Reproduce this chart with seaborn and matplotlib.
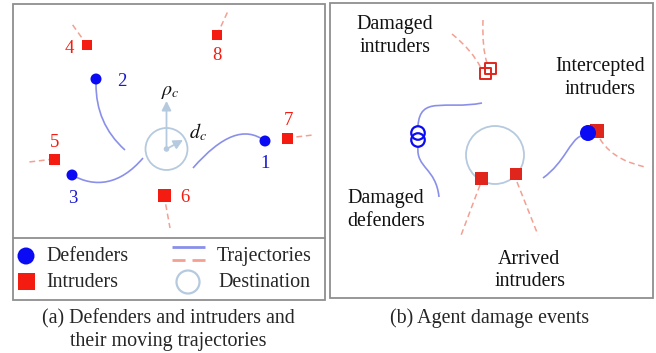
import matplotlib
matplotlib.use("Agg")
import matplotlib.pyplot as plt
from matplotlib.path import Path
from matplotlib.patches import PathPatch, Circle, Rectangle
import pandas as pd
import seaborn as sns

sns.set_theme(style="white")
plt.rcParams["font.family"] = ["Liberation Serif", "DejaVu Serif"]
plt.rcParams["mathtext.fontset"] = "stix"

# ---------------- panel (a): agents and trajectories ----------------
def_ids = ["1", "2", "3"]
def_x = [265, 96, 72]
def_y = [141, 79, 175]
def_lab_x = [265, 122, 73]
def_lab_y = [168, 86, 203]

int_ids = ["4", "5", "6", "7", "8"]
int_x = [87, 54, 164, 287, 217]
int_y = [45, 159, 195, 138, 35]
int_px = [10, 11, 13, 11, 10]
int_lab_x = [69, 55, 185, 288, 217]
int_lab_y = [53, 147, 202, 125, 60]
int_tail_x = [72, 29, 170, 313, 228]
int_tail_y = [24, 162, 228, 135, 11]

# defender paths as cubic Bezier control points (start, c1, c2, end)
def_paths_a = [
    [(265, 141), (245, 126), (222, 135), (193, 168)],
    [(96, 84), (96, 110), (105, 132), (125, 150)],
    [(72, 175), (95, 188), (120, 185), (143, 158)],
]
dest_a = (166.5, 149)
dest_a_r = 21
rho_tip = (166.5, 101)
d_tip = (183, 140)

# ---------------- panel (b): damage events ----------------
dmg_int_x = [485, 490]
dmg_int_y = [73, 68]
dmg_int_paths = [
    [(452, 34), (472, 50), (481, 68)],
    [(483, 20), (482, 48), (487, 63)],
]
dmg_def_x = [418, 418]
dmg_def_y = [133, 140]
dmg_def_paths = [
    [(482, 103), (445, 110), (420, 95), (418, 126)],
    [(418, 147), (416, 168), (436, 168), (439, 197)],
]
dest_b = (495, 155)
dest_b_r = 29
arr_x = [481, 516]
arr_y = [178, 174]
arr_px = [13, 12]
arr_tail = [[(480, 185), (460, 238)], [(517, 182), (538, 235)]]
icp_def = (588, 133)
icp_int = (597, 131)
icp_def_path = [(543, 178), (565, 162), (570, 140), (581, 136)]
icp_int_path = [(600, 139), (612, 158), (630, 163), (645, 167)]

BLUE = "#0a0af5"
BLUE_TXT = "#1a1ad0"
RED = "#f41c10"
RED_B = "#e0261c"
TRAJ_BLUE = "#8a90ea"
TRAJ_RED = "#f3a093"
DEST = "#b6cadf"
FRAME = "#8f8f8f"
FS = 14.4
DASH = (0, (3.8, 2.4))


def px2s(d):
    return (0.72 * d) ** 2


def bezier(ax, pts, color, lw, dashed=False, z=2):
    codes = [Path.MOVETO] + ([Path.CURVE4] * 3 if len(pts) == 4 else [Path.CURVE3] * 2)
    patch = PathPatch(Path(pts, codes), facecolor="none", edgecolor=color, lw=lw,
                      linestyle=DASH if dashed else "-", zorder=z, capstyle="butt")
    ax.add_patch(patch)


fig = plt.figure(figsize=(6.56, 3.53), dpi=100)
ax = fig.add_axes([0, 0, 1, 1])
ax.set_xlim(0, 656)
ax.set_ylim(353, 0)
ax.axis("off")

# frames
ax.add_patch(Rectangle((13, 4), 312, 296, fill=False, ec=FRAME, lw=1.3, zorder=1))
ax.plot([13, 325], [238, 238], color=FRAME, lw=1.3, zorder=1)
ax.add_patch(Rectangle((330, 3), 323, 295, fill=False, ec=FRAME, lw=1.3, zorder=1))

# ---- panel (a) ----
for tx, ty, x, y in zip(int_tail_x, int_tail_y, int_x, int_y):
    ax.plot([x, tx], [y, ty], color=TRAJ_RED, lw=1.1, ls=DASH, zorder=2)
for p in def_paths_a:
    bezier(ax, p, TRAJ_BLUE, 1.2)

ax.add_patch(Circle(dest_a, dest_a_r, fill=False, ec=DEST, lw=1.3, zorder=2))
ax.add_patch(Circle(dest_a, 2.8, fc=DEST, ec="none", zorder=2))
for tip in (rho_tip, d_tip):
    ax.annotate("", xy=tip, xytext=dest_a,
                arrowprops=dict(arrowstyle="-|>,head_length=0.55,head_width=0.28",
                                color=DEST, lw=1.3, mutation_scale=10,
                                shrinkA=0, shrinkB=0),
                zorder=2)
ax.text(170, 95, r"$\rho_c$", fontsize=FS, ha="center", va="baseline", color="#111111")
ax.text(198, 138, r"$d_c$", fontsize=FS, ha="center", va="baseline", color="#111111")

df_def = pd.DataFrame({"x": def_x, "y": def_y, "id": def_ids})
sns.scatterplot(data=df_def, x="x", y="y", ax=ax, marker="o", s=px2s(11),
                color=BLUE, edgecolor="none", zorder=4, legend=False)
df_int = pd.DataFrame({"x": int_x, "y": int_y, "id": int_ids, "px": int_px})
sns.scatterplot(data=df_int, x="x", y="y", ax=ax, marker="s",
                s=[px2s(v) for v in int_px], color=RED, edgecolor="none",
                zorder=4, legend=False)
for t, x, y in zip(def_ids, def_lab_x, def_lab_y):
    ax.text(x, y, t, fontsize=13.5, color=BLUE_TXT, ha="center", va="baseline")
for t, x, y in zip(int_ids, int_lab_x, int_lab_y):
    ax.text(x, y, t, fontsize=13.5, color=RED, ha="center", va="baseline")

# legend of panel (a)
ax.scatter([26], [256], s=px2s(17), marker="o", color=BLUE, ec="none", zorder=4)
ax.scatter([26], [281], s=px2s(17), marker="s", color=RED, ec="none", zorder=4)
ax.plot([172, 205], [247, 247], color=TRAJ_BLUE, lw=2.0, solid_capstyle="butt")
ax.plot([172, 205], [259.5, 259.5], color=TRAJ_RED, lw=2.0, ls=(0, (4.7, 2.5)),
        dash_capstyle="butt")
ax.add_patch(Circle((188, 282), 11.5, fill=False, ec=DEST, lw=1.6))
ax.text(46, 261, "Defenders", fontsize=FS, ha="left", va="baseline")
ax.text(46, 287, "Intruders", fontsize=FS, ha="left", va="baseline")
ax.text(217, 261, "Trajectories", fontsize=FS, ha="left", va="baseline")
ax.text(218, 287, "Destination", fontsize=FS, ha="left", va="baseline")

# ---- panel (b) ----
for p in dmg_int_paths:
    bezier(ax, p, TRAJ_RED, 1.1, dashed=True)
for p in dmg_def_paths:
    bezier(ax, p, TRAJ_BLUE, 1.2)
for (x0, y0), (x1, y1) in arr_tail:
    ax.plot([x0, x1], [y0, y1], color=TRAJ_RED, lw=1.1, ls=DASH, zorder=2)
bezier(ax, icp_def_path, TRAJ_BLUE, 1.2)
bezier(ax, icp_int_path, TRAJ_RED, 1.1, dashed=True)
ax.add_patch(Circle(dest_b, dest_b_r, fill=False, ec=DEST, lw=1.3, zorder=2))

sns.scatterplot(x=dmg_int_x, y=dmg_int_y, ax=ax, marker="s", s=px2s(11),
                facecolor="none", edgecolor=RED_B, linewidth=1.4, zorder=4, legend=False)
sns.scatterplot(x=dmg_def_x, y=dmg_def_y, ax=ax, marker="o", s=px2s(13.5),
                facecolor="none", edgecolor=BLUE, linewidth=1.6, zorder=4, legend=False)
sns.scatterplot(x=arr_x, y=arr_y, ax=ax, marker="s", s=[px2s(v) for v in arr_px],
                color=RED_B, edgecolor="none", zorder=4, legend=False)
sns.scatterplot(x=[icp_int[0]], y=[icp_int[1]], ax=ax, marker="s", s=px2s(14),
                color=RED_B, edgecolor="none", zorder=4, legend=False)
sns.scatterplot(x=[icp_def[0]], y=[icp_def[1]], ax=ax, marker="o", s=px2s(16),
                color=BLUE, edgecolor="none", zorder=5, legend=False)

labels_b = [
    ("Damaged", 395, 29), ("intruders", 395, 52),
    ("Intercepted", 600, 71), ("intruders", 600, 94),
    ("Damaged", 386, 203), ("defenders", 386, 226),
    ("Arrived", 529, 264), ("intruders", 530, 286),
]
for t, x, y in labels_b:
    ax.text(x, y, t, fontsize=FS, ha="center", va="baseline", color="#111111")

# captions
ax.text(168, 323, "(a) Defenders and intruders and", fontsize=FS, ha="center", va="baseline")
ax.text(168, 346, "their moving trajectories", fontsize=FS, ha="center", va="baseline")
ax.text(490, 323, "(b) Agent damage events", fontsize=FS, ha="center", va="baseline")

fig.savefig("out.png", dpi=100, facecolor="white")
